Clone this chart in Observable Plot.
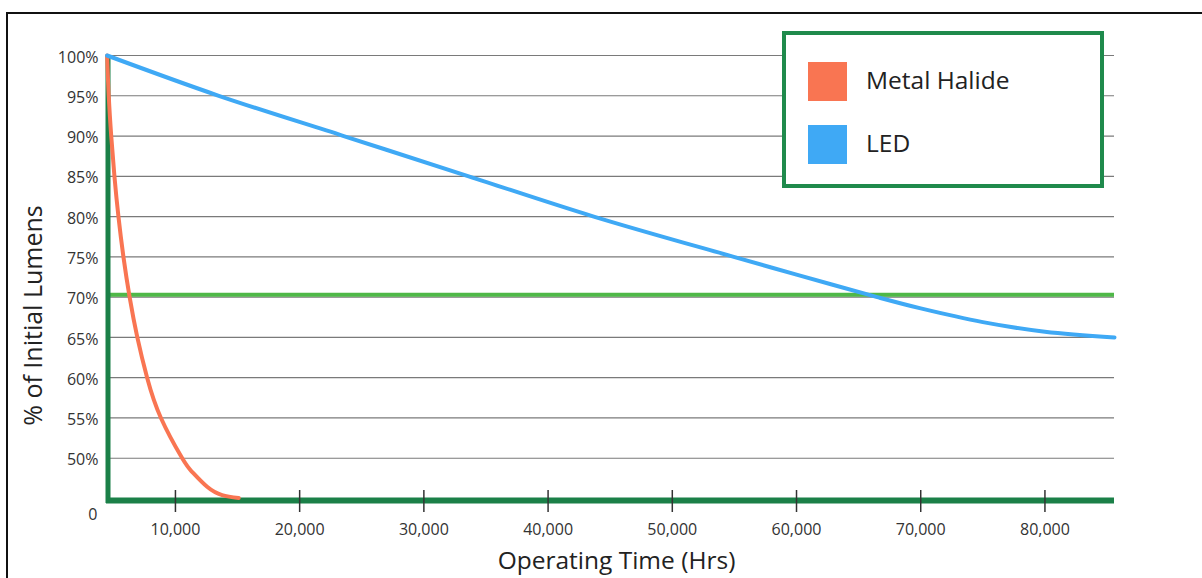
<!DOCTYPE html>
<html>
<head>
<meta charset="utf-8">
<script src="https://cdn.jsdelivr.net/npm/d3@7"></script>
<script src="https://cdn.jsdelivr.net/npm/@observablehq/plot@0.6"></script>
<style>
  html, body { margin: 0; padding: 0; background: #fff; overflow: hidden; }
  #page { position: relative; width: 1202px; height: 578px; font-family: "Open Sans", sans-serif; }
  #frame { position: absolute; left: 6px; top: 12px; right: -10px; bottom: -10px;
           border-top: 2px solid #111; border-left: 2px solid #111; }
  #chart svg { position: absolute; left: 0; top: 0; }
  #legend { position: absolute; left: 782px; top: 31px; width: 322px; height: 157px;
            box-sizing: border-box; border: 4px solid #1f8a4c; background: #fff; }
  .swatch { position: absolute; left: 22px; width: 39px; height: 39px; }
  .entry { position: absolute; left: 80px; height: 30px; line-height: 30px;
           font-size: 24.5px; color: #222; white-space: nowrap; }
</style>
</head>
<body>
<div id="page">
  <div id="frame"></div>
  <div id="chart"></div>
  <div id="legend"></div>
</div>
<script>
// Lumen maintenance: Metal Halide vs LED over operating hours
const seriesNames = ["Metal Halide", "LED"];
const seriesColors = ["#f97552", "#3fa9f5"];

const metalHalideHours = [4500, 4630, 4831, 5089, 5411, 5813, 6312, 6932, 7721, 8833, 10548, 11345, 12552, 13760, 15097];
const metalHalideLumens = [100, 95, 90, 85, 80, 75, 70, 65, 60, 55, 50, 48.3, 46.45, 45.42, 45.05];

const ledHours = [4500, 13490, 23550, 33610, 43680, 54950, 60000, 66500, 70000, 75000, 80000, 85600];
const ledLumens = [100, 95, 90, 85, 80, 75, 72.8, 70, 68.6, 66.9, 65.7, 65.0];

const xTicks = [10000, 20000, 30000, 40000, 50000, 60000, 70000, 80000];
const yTicks = [50, 55, 60, 65, 70, 75, 80, 85, 90, 95, 100];
const xDomain = [4450, 85600];
const yDomain = [45, 100];
const thresholdLumens = 70;

const darkGreen = "#1b8048";
const lightGreen = "#4fb848";

const toRows = (hours, lumens, name) => hours.map((h, i) => ({hours: h, lumens: lumens[i], series: name}));
const mhRows = toRows(metalHalideHours, metalHalideLumens, seriesNames[0]);
const ledRows = toRows(ledHours, ledLumens, seriesNames[1]);

const chart = Plot.plot({
  width: 1202,
  height: 578,
  marginLeft: 106,
  marginRight: 88,
  marginTop: 55,
  marginBottom: 80,
  style: {background: "transparent", fontFamily: "Open Sans, sans-serif", overflow: "visible"},
  x: {domain: xDomain},
  y: {domain: yDomain},
  marks: [
    // horizontal grid
    Plot.ruleY(yTicks, {stroke: "#7a7a7a", strokeWidth: 1.2}),
    // 70% threshold
    Plot.ruleY([thresholdLumens], {stroke: lightGreen, strokeWidth: 4, dy: -2.5}),
    // green axis frame (left and bottom)
    Plot.ruleX([xDomain[0]], {stroke: darkGreen, strokeWidth: 5, dx: 1.5, insetBottom: -5}),
    Plot.ruleY([yDomain[0]], {stroke: darkGreen, strokeWidth: 6, dy: 2}),
    // x axis ticks and labels
    Plot.axisX({
      ticks: xTicks,
      tickSize: 22,
      tickPadding: 11,
      dy: -8,
      stroke: "#333",
      strokeWidth: 1.5,
      fill: "#333",
      fontSize: 16,
      tickFormat: d3.format(","),
      label: null
    }),
    // y axis labels
    Plot.axisY({
      ticks: yTicks,
      tickSize: 0,
      tickPadding: 8,
      dy: 2,
      fill: "#333",
      fontSize: 16,
      tickFormat: d => d + "%",
      label: null
    }),
    Plot.text(["0"], {frameAnchor: "bottom-left", textAnchor: "end", lineAnchor: "middle", dx: -9, dy: 16, fontSize: 16, fill: "#333"}),
    // series
    Plot.line(mhRows, {x: "hours", y: "lumens", stroke: seriesColors[0], strokeWidth: 4, curve: "natural"}),
    Plot.line(ledRows, {x: "hours", y: "lumens", stroke: seriesColors[1], strokeWidth: 4, curve: "catmull-rom"}),
    // axis titles
    Plot.text(["Operating Time (Hrs)"], {frameAnchor: "bottom", textAnchor: "middle", lineAnchor: "middle", dx: 6, dy: 63, fontSize: 24.5, fill: "#222"}),
    Plot.text(["% of Initial Lumens"], {frameAnchor: "left", textAnchor: "middle", lineAnchor: "middle", rotate: -90, dx: -73, dy: 38.5, fontSize: 25, fill: "#222"})
  ]
});
document.getElementById("chart").appendChild(chart);

// legend
const legend = document.getElementById("legend");
seriesNames.forEach((name, i) => {
  const sw = document.createElement("div");
  sw.className = "swatch";
  sw.style.top = (27 + i * 63) + "px";
  sw.style.background = seriesColors[i];
  legend.appendChild(sw);
  const label = document.createElement("div");
  label.className = "entry";
  label.style.top = (30 + i * 63) + "px";
  label.textContent = name;
  legend.appendChild(label);
});
</script>
</body>
</html>
